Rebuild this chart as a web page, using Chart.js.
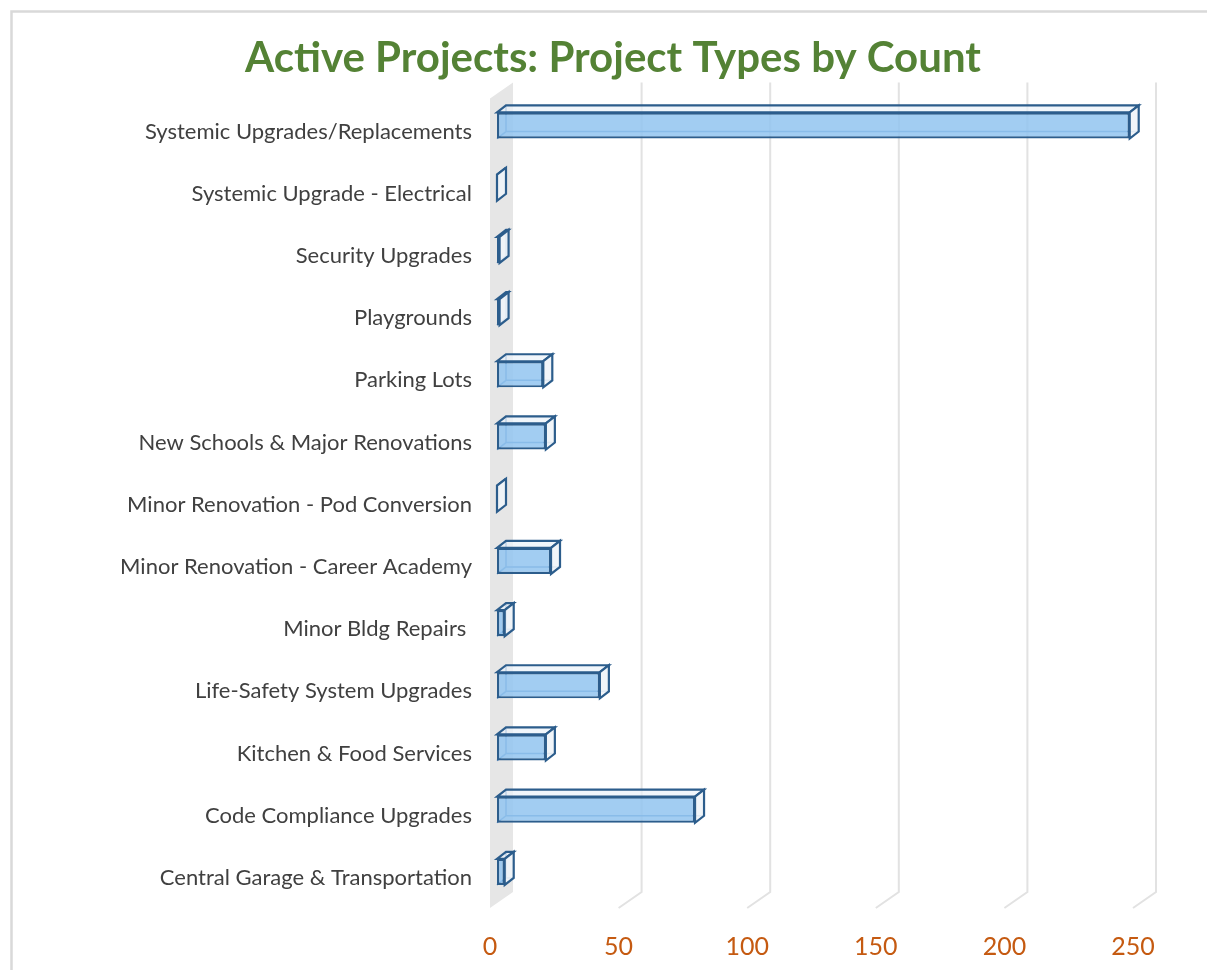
<!DOCTYPE html>
<html>
<head>
<meta charset="utf-8">
<script src="https://cdn.jsdelivr.net/npm/chart.js@4/dist/chart.umd.min.js"></script>
<style>
  html, body { margin: 0; padding: 0; background: #fff; }
  #wrap { width: 1207px; height: 970px; }
</style>
</head>
<body>
<div id="wrap"><canvas id="projects"></canvas></div>
<script>
const categories = [
  "Systemic Upgrades/Replacements",
  "Systemic Upgrade - Electrical",
  "Security Upgrades",
  "Playgrounds",
  "Parking Lots",
  "New Schools & Major Renovations",
  "Minor Renovation - Pod Conversion",
  "Minor Renovation - Career Academy",
  "Minor Bldg Repairs ",
  "Life-Safety System Upgrades",
  "Kitchen & Food Services",
  "Code Compliance Upgrades",
  "Central Garage & Transportation",
];
const counts = [246, 0, 1, 1, 18, 19, 0, 21, 3, 40, 19, 77, 3];
const tickValues = [0, 50, 100, 150, 200, 250];

// 3d depth of the boxes and the walls (px)
const dx = 9, dy = -7;
const backX = 16, backY = -11;
const frontX = -7;

function poly(ctx, pts, fill, stroke, lw) {
  ctx.beginPath();
  ctx.moveTo(pts[0][0], pts[0][1]);
  for (let i = 1; i < pts.length; i++) ctx.lineTo(pts[i][0], pts[i][1]);
  ctx.closePath();
  if (fill) { ctx.fillStyle = fill; ctx.fill(); }
  if (stroke) { ctx.strokeStyle = stroke; ctx.lineWidth = lw; ctx.stroke(); }
}

const frame = {
  id: "frame",
  beforeDraw(chart) {
    const ctx = chart.ctx;
    ctx.save();
    ctx.strokeStyle = "#d9d9d9";
    ctx.lineWidth = 2.5;
    ctx.beginPath();
    ctx.moveTo(11.5, chart.height);
    ctx.lineTo(11.5, 11.5);
    ctx.lineTo(chart.width, 11.5);
    ctx.stroke();
    ctx.restore();
  },
};

const box3d = {
  id: "box3d",
  beforeDatasetsDraw(chart) {
    const ctx = chart.ctx;
    const area = chart.chartArea;
    const xs = chart.scales.x;
    const topB = area.top - 12, botB = area.bottom + backY;
    ctx.save();
    // side wall at zero
    const x0 = xs.getPixelForValue(0);
    poly(ctx, [
      [x0 + backX, topB], [x0 + backX, botB],
      [x0 + frontX, botB + 16], [x0 + frontX, topB + 16],
    ], "#e6e6e6");
    // gridlines on the back wall, bent onto the floor
    ctx.strokeStyle = "#e2e2e2";
    ctx.lineWidth = 2;
    tickValues.slice(1).forEach((v) => {
      const px = xs.getPixelForValue(v);
      ctx.beginPath();
      ctx.moveTo(px + backX, topB);
      ctx.lineTo(px + backX, botB);
      ctx.lineTo(px + frontX, botB + 16);
      ctx.stroke();
    });
    // back, top and right faces of each box
    chart.getDatasetMeta(0).data.forEach((bar) => {
      const { x, y, base, height } = bar.getProps(["x", "y", "base", "height"], true);
      const t = y - height / 2, b = y + height / 2;
      ctx.strokeStyle = "#5b8cc0";
      ctx.lineWidth = 1.5;
      ctx.beginPath();
      ctx.moveTo(base + dx, t + dy);
      ctx.lineTo(base + dx, b + dy);
      ctx.lineTo(x + dx, b + dy);
      ctx.moveTo(base, b);
      ctx.lineTo(base + dx, b + dy);
      ctx.stroke();
      poly(ctx, [[base, t], [x, t], [x + dx, t + dy], [base + dx, t + dy]],
        "rgba(235,242,250,0.7)", "#2c5d8c", 2.2);
      poly(ctx, [[x, t], [x + dx, t + dy], [x + dx, b + dy], [x, b]],
        "rgba(240,244,248,0.9)", "#2c5d8c", 2.2);
    });
    ctx.restore();
  },
};

new Chart(document.getElementById("projects"), {
  type: "bar",
  data: {
    labels: categories,
    datasets: [
      {
        label: "Count",
        data: counts,
        backgroundColor: "rgba(146,196,240,0.85)",
        borderColor: "#2c5d8c",
        borderWidth: 2.2,
        borderSkipped: false,
        barPercentage: 0.42,
        categoryPercentage: 1,
      },
    ],
  },
  options: {
    indexAxis: "y",
    responsive: true,
    maintainAspectRatio: false,
    animation: false,
    layout: { padding: { left: 86, right: 67, top: 0, bottom: 11 } },
    scales: {
      x: {
        min: 0,
        max: 250,
        afterBuildTicks: (axis) => {
          axis.ticks = tickValues.map((v) => ({ value: v }));
        },
        afterFit: (scale) => {
          scale.height = 56;
        },
        grid: { display: false },
        border: { display: false },
        ticks: {
          color: "#c55a11",
          padding: 21,
          labelOffset: frontX,
          maxRotation: 0,
          font: { family: "Lato, sans-serif", size: 25 },
        },
      },
      y: {
        afterFit: (scale) => {
          scale.width = 411;
        },
        grid: { display: false },
        border: { display: false },
        ticks: {
          color: "#404040",
          padding: 17,
          labelOffset: 6,
          autoSkip: false,
          font: { family: "Lato, sans-serif", size: 22 },
        },
      },
    },
    plugins: {
      legend: { display: false },
      tooltip: { enabled: false },
      title: {
        display: true,
        text: "Active Projects: Project Types by Count",
        color: "#548235",
        font: { family: "Lato, sans-serif", size: 42, weight: "bold" },
        padding: { top: 33, bottom: 11 },
      },
    },
  },
  plugins: [frame, box3d],
});
</script>
</body>
</html>
